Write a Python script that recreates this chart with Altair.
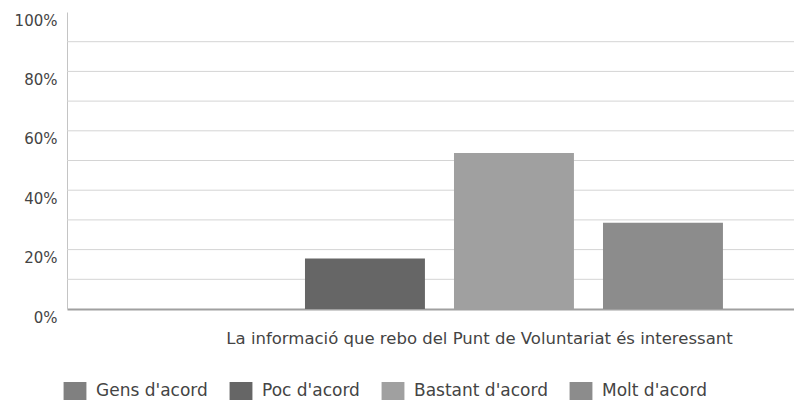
import altair as alt
import pandas as pd

categories = ["Gens d'acord", "Poc d'acord", "Bastant d'acord", "Molt d'acord"]
values = [0.0, 0.17, 0.525, 0.29]
colors = ["#808080", "#666666", "#a0a0a0", "#8c8c8c"]
question = "La informació que rebo del Punt de Voluntariat és interessant"
y_ticks = [0, 0.2, 0.4, 0.6, 0.8, 1.0]
grid_values = [0.1, 0.2, 0.3, 0.4, 0.5, 0.6, 0.7, 0.8, 0.9]

FONT = "DejaVu Sans"

bars_df = pd.DataFrame({"cat": categories, "val": values})
grid_df = pd.DataFrame({"g": grid_values})

yscale = alt.Scale(domain=[0, 1], nice=False)
yaxis = alt.Axis(
    values=y_ticks, format=".0%", title=None, grid=False, ticks=False,
    labelFont=FONT, labelFontSize=15, labelColor="#444444",
    labelPadding=10, labelBaseline="top", labelOffset=1,
    domainColor="#c4c4c4", domainWidth=1,
)

grid = alt.Chart(grid_df).mark_rule(color="#d4d4d4", strokeWidth=1).encode(
    y=alt.Y("g:Q", scale=yscale, axis=yaxis)
)

bars = alt.Chart(bars_df).mark_bar().encode(
    x=alt.X(
        "cat:N",
        sort=categories,
        scale=alt.Scale(paddingInner=0.195, paddingOuter=0.537, align=0.556),
        axis=alt.Axis(
            labels=False, ticks=False, title=question,
            titleFont=FONT, titleFontSize=16.5, titleFontWeight="normal",
            titleColor="#444444", titleX=412, titleY=29,
            titleAlign="center", titleBaseline="middle",
            domainColor="#a0a0a0", domainWidth=2,
        ),
    ),
    y=alt.Y("val:Q", scale=yscale, axis=yaxis),
    color=alt.Color(
        "cat:N",
        scale=alt.Scale(domain=categories, range=colors),
        legend=alt.Legend(
            title=None, orient="none", direction="horizontal",
            legendX=-1, legendY=370,
            symbolType="M-1.27,-1H1.27V1H-1.27Z", symbolSize=324,
            symbolStrokeWidth=0,
            labelFont=FONT, labelFontSize=17, labelColor="#444444",
            labelOffset=12, columnPadding=21,
        ),
    ),
)

chart = alt.layer(grid, bars).properties(
    width=727, height=297,
    autosize=alt.AutoSizeParams(type="none"),
    padding={"left": 59, "top": 4, "right": 0, "bottom": 91},
).configure_view(stroke=None)

chart.save("out.html", embed_options={"renderer": "svg", "actions": False})
